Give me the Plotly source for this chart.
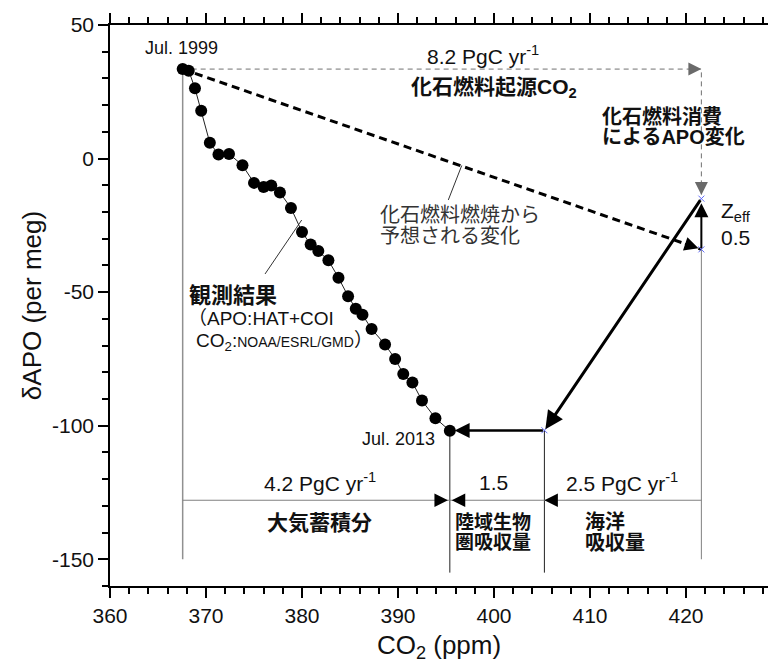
import plotly.graph_objects as go

# ---------------- data ----------------
co2_obs = [367.57, 368.2, 368.85, 369.5, 370.4, 371.3, 372.4, 373.8, 375.0, 376.0,
           376.8, 377.7, 378.85, 380.0, 380.9, 381.7, 382.75, 383.8, 384.8, 385.6,
           386.3, 387.25, 388.65, 389.7, 390.55, 391.5, 392.5, 393.9, 395.4]
apo_obs = [33.5, 32.9, 26.3, 17.9, 5.9, 1.5, 1.75, -2.5, -9.1, -10.6,
           -10.1, -12.7, -18.5, -27.5, -32.2, -34.6, -38.1, -44.6, -51.5, -56.2,
           -58.5, -63.8, -69.6, -75.0, -80.6, -83.8, -90.6, -97.2, -101.9]

co2_fossil_end = 421.6       # CO2 if all fossil CO2 stayed in the air
apo_fossil_expected = -34.0  # APO expected from fossil fuel combustion
apo_after_zeff = -15.0       # after ocean outgassing (Zeff) correction
co2_land_point = 405.25      # ocean / land split point
budget_level = -127.9        # level of budget bar

fossil_rate = "8.2"
atm_rate = "4.2"
land_rate = "1.5"
ocean_rate = "2.5"
zeff_value = "0.5"

x_ticks = [360, 370, 380, 390, 400, 410, 420]
x_ticktext = ["360", "370", "380", "390", "400", "410", "420"]
y_ticks = [-150, -100, -50, 0, 50]
y_ticktext = ["-150", "-100", "-50", "0", "50"]

FONT = "Liberation Sans, Arial, Noto Sans CJK JP, sans-serif"

x0, y0 = co2_obs[0], apo_obs[0]
x1, y1 = co2_obs[-1], apo_obs[-1]

fig = go.Figure()


def line(xs, ys, color="black", width=1, dash=None):
    fig.add_trace(go.Scatter(x=xs, y=ys, mode="lines", hoverinfo="skip",
                             line=dict(color=color, width=width, dash=dash),
                             showlegend=False))


# vertical guide lines
line([x0, x0], [y0, -150], color="#909090", width=1.5)
line([x1, x1], [y1, -155], color="#222222", width=1)
line([co2_land_point, co2_land_point], [apo_obs[-1] + 0.2, -155], color="#222222", width=1)
line([co2_fossil_end, co2_fossil_end], [apo_fossil_expected, -150], color="#808080", width=1)
# budget bar
line([x0, co2_fossil_end], [budget_level, budget_level], color="#808080", width=1.2)

# grey dashed fossil CO2 path
line([x0, co2_fossil_end, co2_fossil_end], [y0, y0, apo_after_zeff], color="#707070", width=1, dash="5px,4px")
# black dashed expected change
line([x0, co2_fossil_end], [y0, apo_fossil_expected], color="black", width=3, dash="8px,5px")

# leader lines
line([396.64, 395.24], [-2.6, -15.5], color="#333333", width=1)
line([379.97, 376.15], [-23.0, -43.2], color="#333333", width=1)

# observations
fig.add_trace(go.Scatter(x=co2_obs, y=apo_obs, mode="lines+markers", hoverinfo="skip",
                         line=dict(color="#222222", width=1),
                         marker=dict(color="black", size=12),
                         showlegend=False))

# small x markers
fig.add_trace(go.Scatter(x=[co2_fossil_end, co2_fossil_end, co2_land_point],
                         y=[apo_after_zeff, apo_fossil_expected, apo_obs[-1] + 0.2],
                         mode="markers", hoverinfo="skip",
                         marker=dict(symbol="x-thin-open", size=6, line=dict(color="#8a6aaa", width=1)),
                         showlegend=False))

ann = []


def arrow(x, y, ax, ay, width, size, color="black", ref="data", standoff=0):
    d = dict(x=x, y=y, xref="x", yref="y", showarrow=True, arrowhead=2,
             arrowwidth=width, arrowsize=size, arrowcolor=color, text="",
             standoff=standoff)
    if ref == "data":
        d.update(ax=ax, ay=ay, axref="x", ayref="y")
    else:
        d.update(ax=ax, ay=ay)
    ann.append(d)


# thick ocean arrow and land arrow
arrow(co2_land_point + 0.1, apo_obs[-1] + 0.6, co2_fossil_end, apo_after_zeff, 3, 1.2)
arrow(x1 + 0.5, y1 + 0.1, co2_land_point, y1 + 0.1, 2.5, 1.2)
# Zeff arrow
arrow(co2_fossil_end, apo_after_zeff - 1.7, co2_fossil_end, apo_fossil_expected, 2, 1.4)
# head of black dashed line
arrow(co2_fossil_end - 0.3, apo_fossil_expected + 0.4, -15, -5, 2, 1.4, ref="px")
# grey dashed heads
arrow(co2_fossil_end, y0, -12, 0, 1, 2.6, color="#6a6a6a", ref="px")
arrow(co2_fossil_end, apo_after_zeff + 1.4, 0, -12, 1, 2.6, color="#6a6a6a", ref="px")
# budget bar heads
arrow(x1 - 0.2, budget_level, -13, 0, 1.5, 1.8, ref="px")
arrow(x1 + 0.2, budget_level, 13, 0, 1.5, 1.8, ref="px")
arrow(co2_land_point, budget_level, 13, 0, 1.5, 1.8, ref="px")


def text(x, y, s, size=21, bold=False, xanchor="center", color="#111111"):
    if bold:
        s = "<b>" + s + "</b>"
    ann.append(dict(x=x, y=y, xref="x", yref="y", text=s, showarrow=False,
                    xanchor=xanchor, yanchor="middle", align="left",
                    font=dict(size=size, color=color, family=FONT)))


text(367.45, 41.4, "Jul. 1999", size=18)
text(390.1, -105.0, "Jul. 2013", size=18)
text(398.85, 38.8, f"{fossil_rate} PgC yr<sup>-1</sup>", size=21)
text(400.0, 26.4, "化石燃料起源CO<sub>2</sub>", size=21, bold=True)
text(411.0, 15.75, "化石燃料消費", size=20, bold=True, xanchor="left")
text(411.0, 7.9, "によるAPO変化", size=20, bold=True, xanchor="left")
text(387.9, -21.0, "化石燃料燃焼から", size=20, xanchor="left", color="#333333")
text(387.9, -28.8, "予想される変化", size=20, xanchor="left", color="#333333")
text(423.4, -20.0, "Z<sub>eff</sub>", size=21, xanchor="left")
text(423.4, -29.7, zeff_value, size=21, xanchor="left")
text(368.0, -51.1, "観測結果", size=22, bold=True, xanchor="left")
text(367.9, -59.7, "（APO:HAT+COI", size=19, xanchor="left")
text(368.7, -68.7, "CO<sub>2</sub>:<span style='font-size:14px'>NOAA/ESRL/GMD</span>）", size=19, xanchor="left")
text(381.9, -121.2, f"{atm_rate} PgC yr<sup>-1</sup>", size=21)
text(399.9, -121.2, land_rate, size=21)
text(413.3, -121.2, f"{ocean_rate} PgC yr<sup>-1</sup>", size=21)
text(381.8, -136.3, "大気蓄積分", size=21, bold=True)
text(399.9, -136.1, "陸域生物", size=19, bold=True)
text(399.9, -143.9, "圏吸収量", size=19, bold=True)
text(409.3, -136.1, "海洋", size=20, bold=True, xanchor="left")
text(409.3, -143.9, "吸収量", size=20, bold=True, xanchor="left")

fig.update_layout(
    width=768, height=663,
    margin=dict(l=110, r=0, t=25, b=77),
    paper_bgcolor="white", plot_bgcolor="white",
    font=dict(family=FONT, size=21, color="#111111"),
    annotations=ann,
    showlegend=False,
    xaxis=dict(range=[360, 360 + 658 / 9.6], tickvals=x_ticks, ticktext=x_ticktext, ticks="outside",
               ticklen=10, tickwidth=1.5, tickcolor="black",
               minor=dict(dtick=2, ticks="outside", ticklen=6, tickwidth=1.5, tickcolor="black"),
               showline=True, linecolor="black", linewidth=1.5, mirror="ticks",
               showgrid=False, zeroline=False, tickfont=dict(size=21),
               title=dict(text="CO<sub>2</sub> (ppm)", font=dict(size=26), standoff=14)),
    yaxis=dict(range=[-160, 50], tickvals=y_ticks, ticktext=y_ticktext, ticks="outside",
               ticklen=10, tickwidth=1.5, tickcolor="black",
               minor=dict(dtick=10, ticks="outside", ticklen=6, tickwidth=1.5, tickcolor="black"),
               showline=True, linecolor="black", linewidth=1.5,
               showgrid=False, zeroline=False, tickfont=dict(size=21),
               title=dict(text="δAPO (per meg)", font=dict(size=26), standoff=3)),
)

fig.write_html("out.html")
